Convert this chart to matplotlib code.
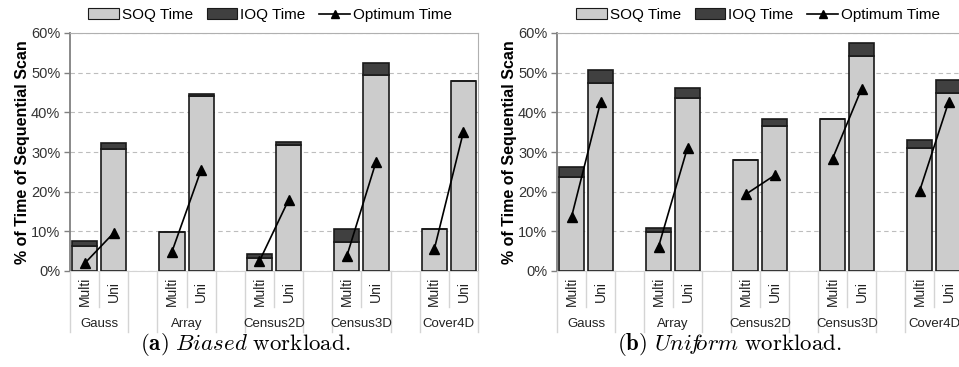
import numpy as np
import matplotlib.pyplot as plt
from matplotlib.patches import Patch
from matplotlib.lines import Line2D
from matplotlib.transforms import blended_transform_factory

plt.rcParams['font.family'] = ['Liberation Sans', 'DejaVu Sans']
plt.rcParams['mathtext.fontset'] = 'cm'

datasets = ['Gauss', 'Array', 'Census2D', 'Census3D', 'Cover4D']
methods = ['Multi', 'Uni']

# percent of sequential scan time, order: Multi, Uni per dataset
soq_biased = [6.3, 30.8, 9.8, 44.2, 3.2, 31.7, 7.3, 49.5, 10.5, 47.9]
ioq_biased = [1.2, 1.4, 0.1, 0.4, 1.0, 0.8, 3.2, 3.0, 0.0, 0.0]
opt_biased = [1.9, 9.6, 4.9, 25.5, 2.5, 17.9, 3.8, 27.5, 5.5, 35.1]

soq_uniform = [23.6, 47.4, 9.8, 43.6, 27.9, 36.6, 38.3, 54.3, 31.1, 44.9]
ioq_uniform = [2.6, 3.2, 1.1, 2.5, 0.0, 1.7, 0.0, 3.1, 2.0, 3.2]
opt_uniform = [13.6, 42.5, 6.1, 31.1, 19.3, 24.1, 28.3, 45.9, 20.1, 42.5]

SOQ_COLOR = '#cccccc'
IOQ_COLOR = '#404040'
EDGE = '#1a1a1a'
TABLE = '#d4d4d4'

W, H = 959, 367
fig = plt.figure(figsize=(W / 100, H / 100), dpi=100)


def panel(x0, x1, soq, ioq, opt, caption, cap_x, leg_x):
    y0, y1 = 271, 33
    ax = fig.add_axes([x0 / W, 1 - y0 / H, (x1 - x0) / W, (y0 - y1) / H])
    ax_h = y0 - y1
    ax_w = x1 - x0
    pos = np.array([3 * g + m for g in range(len(datasets)) for m in range(2)])
    soq = np.array(soq)
    ioq = np.array(ioq)
    ax.bar(pos, soq, width=0.86, color=SOQ_COLOR, edgecolor=EDGE, linewidth=1.2, zorder=3)
    ax.bar(pos, ioq, bottom=soq, width=0.86, color=IOQ_COLOR, edgecolor=EDGE, linewidth=1.2, zorder=3)
    for g in range(len(datasets)):
        ax.plot(pos[2 * g:2 * g + 2], opt[2 * g:2 * g + 2], color='black', lw=1.2,
                marker='^', markersize=7, zorder=4)

    ax.set_xlim(-0.5, 13.5)
    ax.set_ylim(0, 60)
    ax.set_yticks(np.arange(0, 61, 10))
    ax.set_yticklabels(['%d%%' % v for v in range(0, 61, 10)], fontsize=10.5, color='#333333')
    ax.yaxis.grid(True, linestyle=(0, (4, 3)), color='#bdbdbd', lw=0.8)
    ax.set_axisbelow(True)
    ax.set_xticks([])
    ax.tick_params(axis='y', length=4, width=1, color='#808080', pad=3)
    ax.spines['left'].set_color('#808080')
    ax.spines['left'].set_linewidth(1.3)
    ax.spines['top'].set_color('#b0b0b0')
    ax.spines['right'].set_color('#b0b0b0')
    ax.spines['bottom'].set_color(TABLE)
    ax.set_ylabel('% of Time of Sequential Scan', fontsize=11.5, fontweight='bold')
    ax.yaxis.set_label_coords(-40 / ax_w, 0.5)

    # two-level category table under the axis
    tr = blended_transform_factory(ax.transData, ax.transAxes)
    full = -61 / ax_h
    short = -36 / ax_h
    for g, name in enumerate(datasets):
        s = 3 * g
        for xb, yb in [(s - 0.5, full), (s + 0.5, short), (s + 1.5, full)]:
            ax.plot([xb, xb], [0, yb], color=TABLE, lw=1, transform=tr, clip_on=False)
        for m, lab in enumerate(methods):
            ax.text(s + m, -20 / ax_h, lab, rotation=90, ha='center', va='center',
                    fontsize=10, color='#222222', transform=tr)
        ax.text(s + 0.5, -53 / ax_h, name, ha='center', va='center',
                fontsize=9.5, color='#222222', transform=tr)

    fig.text(cap_x / W, 1 - 344 / H, caption, ha='center', va='center', fontsize=16.5)

    handles = [Patch(facecolor=SOQ_COLOR, edgecolor=EDGE, lw=0.8),
               Patch(facecolor=IOQ_COLOR, edgecolor=EDGE, lw=0.8),
               Line2D([], [], color='black', lw=1.2, marker='^', markersize=6)]
    fig.legend(handles, ['SOQ Time', 'IOQ Time', 'Optimum Time'], loc='center',
               bbox_to_anchor=(leg_x / W, 1 - 15 / H), ncol=3, frameon=False,
               fontsize=11, handlelength=2.0, handleheight=0.75,
               handletextpad=0.2, columnspacing=0.9, borderpad=0)
    return ax


panel(70, 478, soq_biased, ioq_biased, opt_biased,
      r'$(\mathbf{a})\ \mathit{Biased}\ \mathrm{workload.}$', 245, 270)
panel(557, 963, soq_uniform, ioq_uniform, opt_uniform,
      r'$(\mathbf{b})\ \mathit{Uni\!f\!orm}\ \mathrm{workload.}$', 729, 758)

fig.savefig('out.png', dpi=100)
